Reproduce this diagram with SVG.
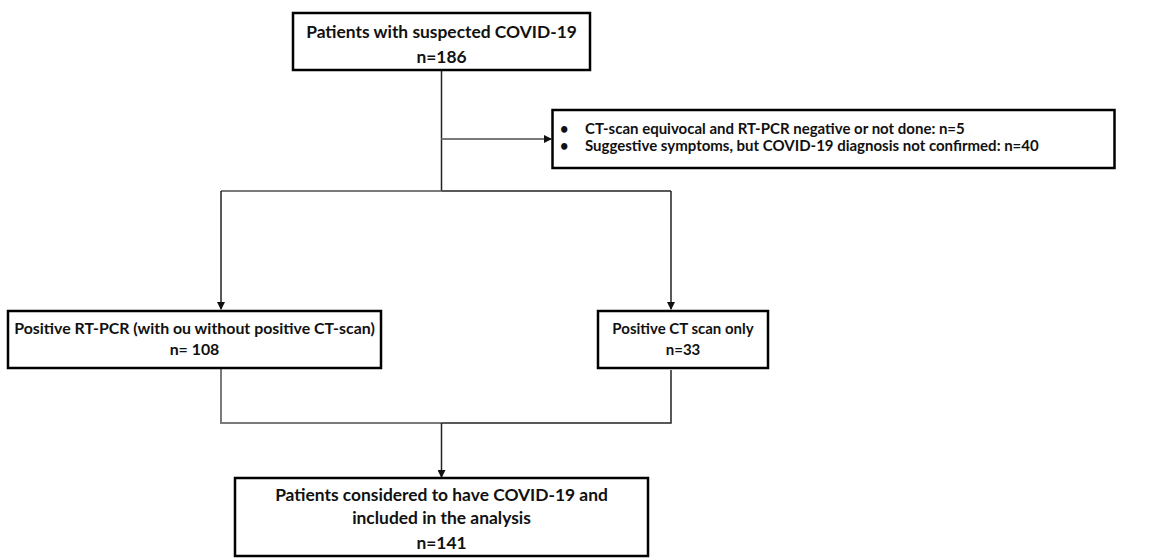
<svg xmlns="http://www.w3.org/2000/svg" width="1167" height="560" viewBox="0 0 1167 560">
<style>
.box{fill:#fff;stroke:#000;stroke-width:2.5}
.t{font-family:Lato,"Liberation Sans",sans-serif;font-weight:bold;font-size:15px;fill:#111;text-anchor:middle}
.tl{font-family:Lato,"Liberation Sans",sans-serif;font-weight:bold;font-size:14.5px;fill:#111}
.c{fill:none;stroke:#222;stroke-width:1.5}
.g{fill:none;stroke:#7a7a7a;stroke-width:2}
</style>
<defs>
<marker id="ah" markerWidth="8" markerHeight="8" refX="7" refY="4" orient="auto" markerUnits="userSpaceOnUse">
<path d="M0,0 L8,4 L0,8 Z" fill="#111"/>
</marker>
</defs>
<g id="connectors">
<path class="c" d="M441.5,70 V191"/>
<path class="g" d="M441.5,139 H551" marker-end="url(#ah)"/>
<path class="g" d="M441.5,191 H221"/>
<path class="c" d="M441.5,191 H671"/>
<path class="c" d="M221,191 V309" marker-end="url(#ah)"/>
<path class="c" d="M671,191 V309" marker-end="url(#ah)"/>
<path class="g" d="M221,368 V423 H441.5"/>
<path class="c" d="M671,370 V423 H441.5"/>
<path class="c" d="M441.5,423 V477" marker-end="url(#ah)"/>
</g>
<g id="n1">
<rect class="box" x="293" y="13" width="297" height="57"/>
<text class="t" x="441.5" y="38" style="font-size:17.4px">Patients with suspected COVID-19</text>
<text class="t" x="441.5" y="63" style="font-size:17.4px">n=186</text>
</g>
<g id="n2">
<rect class="box" x="552.5" y="110" width="562" height="58"/>
<text class="tl" x="560" y="134">•</text>
<text class="tl" x="585" y="134" style="font-size:15px">CT-scan equivocal and RT-PCR negative or not done: n=5</text>
<text class="tl" x="560" y="151">•</text>
<text class="tl" x="585" y="151" style="font-size:15px">Suggestive symptoms, but COVID-19 diagnosis not confirmed: n=40</text>
</g>
<g id="n3">
<rect class="box" x="8" y="311" width="373" height="57"/>
<text class="t" x="194.5" y="334" style="font-size:15.9px">Positive RT-PCR (with ou without positive CT-scan)</text>
<text class="t" x="194.5" y="355" style="font-size:15.9px">n= 108</text>
</g>
<g id="n4">
<rect class="box" x="598" y="311" width="170" height="57"/>
<text class="t" x="683" y="334">Positive CT scan only</text>
<text class="t" x="683" y="355">n=33</text>
</g>
<g id="n5">
<rect class="box" x="235" y="478" width="413" height="78"/>
<text class="t" x="441.5" y="501" style="font-size:17.4px">Patients considered to have COVID-19 and</text>
<text class="t" x="441.5" y="524" style="font-size:17.4px">included in the analysis</text>
<text class="t" x="441.5" y="549" style="font-size:17.4px">n=141</text>
</g>
</svg>
